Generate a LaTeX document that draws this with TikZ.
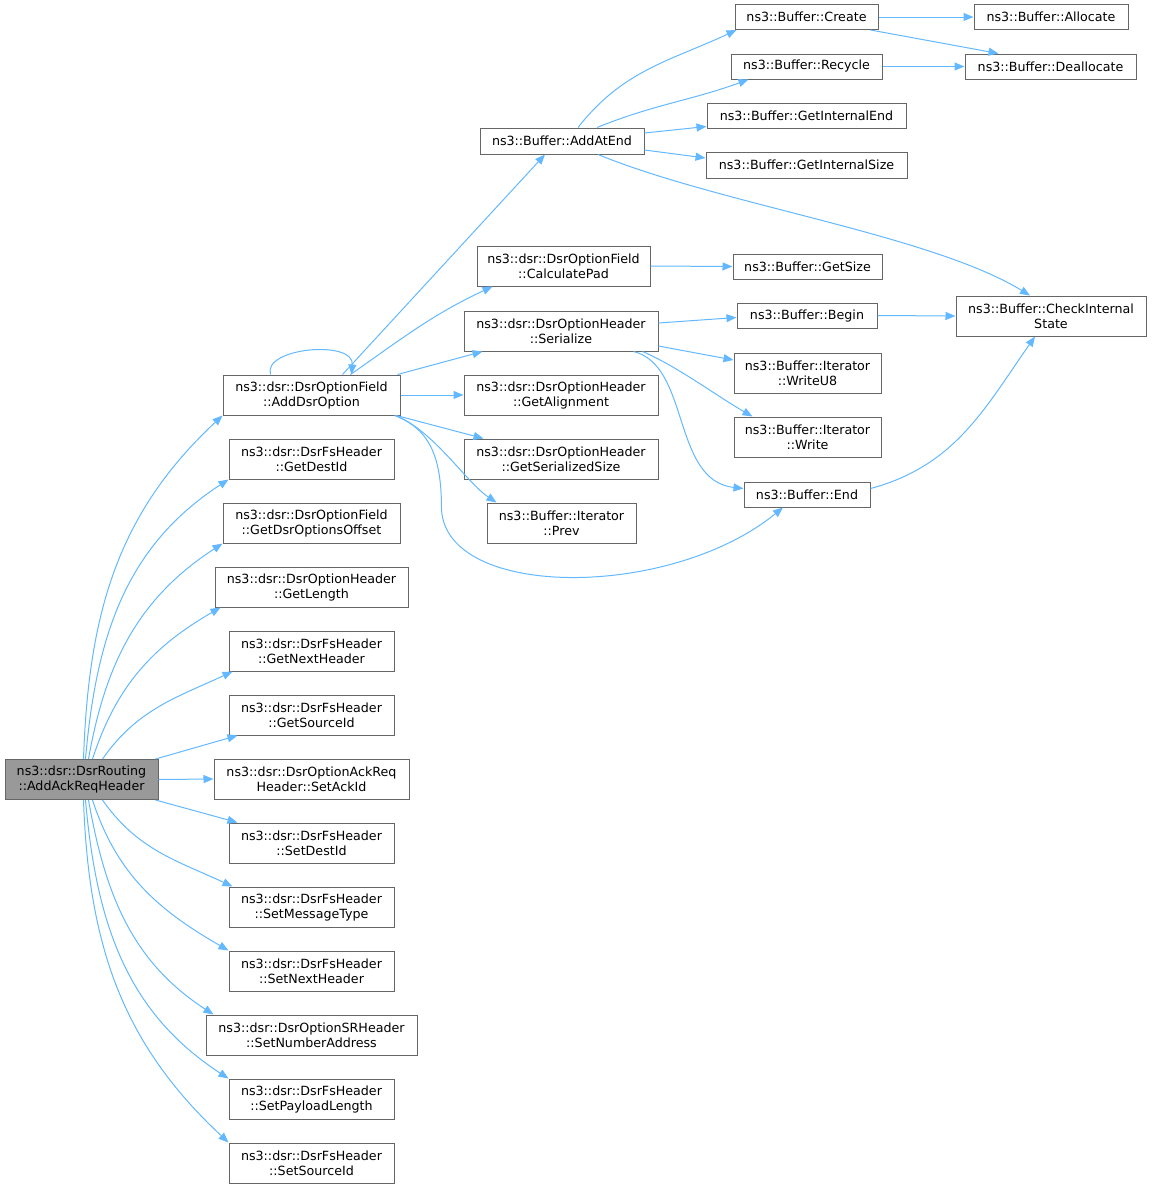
\documentclass[tikz,border=0pt]{standalone}
\usepackage{fontspec}
\setmainfont{DejaVu Sans}
\usetikzlibrary{arrows.meta,calc}
\definecolor{edgeblue}{HTML}{63B8FF}
\definecolor{boxgray}{HTML}{666666}
\definecolor{rootgray}{HTML}{999999}
\tikzset{
    fn/.style={draw=boxgray, fill=white, line width=0.75pt, inner sep=0pt, align=center,
        minimum height=30pt, font=\fontsize{9.5}{11.25}\selectfont},
    one/.style={minimum height=18.75pt},
    wd/.style={minimum width=#1*0.75pt},
    call/.style={draw=edgeblue, line width=0.75pt, -{Triangle[length=7.5pt,width=6pt]}}
}
\begin{document}
\begin{tikzpicture}[x=0.75pt,y=-0.75pt]
                \useasboundingbox (0,0) rectangle (1152,1189);
                \draw (81.5,779.5) node[fn, wd=153, fill=rootgray] (root) {ns3::dsr::DsrRouting\\::AddAckReqHeader};
                \draw (311.5,395) node[fn, wd=177] (adddsr) {ns3::dsr::DsrOptionField\\::AddDsrOption};
                \draw (311.5,459) node[fn, wd=165] (getdestid) {ns3::dsr::DsrFsHeader\\::GetDestId};
                \draw (311.5,523) node[fn, wd=177] (getoffset) {ns3::dsr::DsrOptionField\\::GetDsrOptionsOffset};
                \draw (311.5,587) node[fn, wd=193] (getlength) {ns3::dsr::DsrOptionHeader\\::GetLength};
                \draw (311.5,651) node[fn, wd=165] (getnexthdr) {ns3::dsr::DsrFsHeader\\::GetNextHeader};
                \draw (311.5,715) node[fn, wd=165] (getsrcid) {ns3::dsr::DsrFsHeader\\::GetSourceId};
                \draw (311.5,779) node[fn, wd=195] (setackid) {ns3::dsr::DsrOptionAckReq\\Header::SetAckId};
                \draw (311.5,843) node[fn, wd=165] (setdestid) {ns3::dsr::DsrFsHeader\\::SetDestId};
                \draw (311.5,907) node[fn, wd=165] (setmsgtype) {ns3::dsr::DsrFsHeader\\::SetMessageType};
                \draw (311.5,971) node[fn, wd=165] (setnexthdr) {ns3::dsr::DsrFsHeader\\::SetNextHeader};
                \draw (311.5,1035) node[fn, wd=211] (setnumaddr) {ns3::dsr::DsrOptionSRHeader\\::SetNumberAddress};
                \draw (311.5,1099) node[fn, wd=165] (setpayload) {ns3::dsr::DsrFsHeader\\::SetPayloadLength};
                \draw (311.5,1163) node[fn, wd=165] (setsrcid) {ns3::dsr::DsrFsHeader\\::SetSourceId};
                \draw (562,141) node[fn, wd=164, minimum height=19.5pt] (addatend) {ns3::Buffer::AddAtEnd};
                \draw (563.5,266) node[fn, wd=173] (calcpad) {ns3::dsr::DsrOptionField\\::CalculatePad};
                \draw (561,331) node[fn, wd=194] (serialize) {ns3::dsr::DsrOptionHeader\\::Serialize};
                \draw (561,395) node[fn, wd=194] (getalign) {ns3::dsr::DsrOptionHeader\\::GetAlignment};
                \draw (561,459) node[fn, wd=194] (getsersize) {ns3::dsr::DsrOptionHeader\\::GetSerializedSize};
                \draw (561.5,523) node[fn, wd=149] (prev) {ns3::Buffer::Iterator\\::Prev};
                \draw (806.5,17) node[fn, one, wd=143] (create) {ns3::Buffer::Create};
                \draw (806.5,66.5) node[fn, one, wd=151] (recycle) {ns3::Buffer::Recycle};
                \draw (806.5,115.5) node[fn, one, wd=199] (getintend) {ns3::Buffer::GetInternalEnd};
                \draw (806.5,165) node[fn, wd=201, minimum height=19.5pt] (getintsize) {ns3::Buffer::GetInternalSize};
                \draw (807.5,266.5) node[fn, one, wd=149] (getsize) {ns3::Buffer::GetSize};
                \draw (807,315.5) node[fn, one, wd=140] (begin) {ns3::Buffer::Begin};
                \draw (807.5,373) node[fn, wd=147] (writeu8) {ns3::Buffer::Iterator\\::WriteU8};
                \draw (807.5,437) node[fn, wd=147] (write) {ns3::Buffer::Iterator\\::Write};
                \draw (807,494.5) node[fn, one, wd=126] (end) {ns3::Buffer::End};
                \draw (1051,17) node[fn, one, wd=154] (allocate) {ns3::Buffer::Allocate};
                \draw (1050.5,66.5) node[fn, one, wd=171] (deallocate) {ns3::Buffer::Deallocate};
                \draw (1051,316) node[fn, wd=190] (checkint) {ns3::Buffer::CheckInternal\\State};

                \draw[call] ($(root.north)+(2,0)$) to[out=88,in=223] (adddsr.south west);
                \draw[call] ($(root.north)+(4,0)$) to[out=85,in=213] (getdestid.south west);
                \draw[call] ($(root.north)+(7,0)$) to[out=80,in=213] (getoffset.south west);
                \draw[call] ($(root.north)+(11,0)$) to[out=72,in=210] ($(getlength.south west)+(6,0)$);
                \draw[call] ($(root.north)+(21,0)$) to[out=55,in=205] ($(getnexthdr.south west)+(4,0)$);
                \draw[call] ($(root.north east)+(-3,0)$) -- ($(getsrcid.south west)+(9,0)$);
                \draw[call] (root.east) -- (setackid.west);
                \draw[call] ($(root.south east)+(-3,0)$) -- ($(setdestid.north west)+(9,0)$);
                \draw[call] ($(root.south)+(21,0)$) to[out=-55,in=155] ($(setmsgtype.north west)+(4,0)$);
                \draw[call] ($(root.south)+(11,0)$) to[out=-72,in=150] (setnexthdr.north west);
                \draw[call] ($(root.south)+(7,0)$) to[out=-80,in=147] ($(setnumaddr.north west)+(8,0)$);
                \draw[call] ($(root.south)+(4,0)$) to[out=-85,in=147] (setpayload.north west);
                \draw[call] ($(root.south)+(2,0)$) to[out=-88,in=137] (setsrcid.north west);

                \draw[call] ($(adddsr.north)+(-41,0)$) .. controls +(-8,-27) and +(3,-35) .. ($(adddsr.north)+(40,0)$);
                \draw[call] ($(adddsr.north)+(31,0)$) -- ($(addatend.south)+(-17,0)$);
                \draw[call] ($(adddsr.north)+(39,0)$) to[out=35,in=205] ($(calcpad.south west)+(16,0)$);
                \draw[call] ($(adddsr.north east)+(-3,0)$) -- ($(serialize.south west)+(19,0)$);
                \draw[call] (adddsr.east) -- (getalign.west);
                \draw[call] ($(adddsr.south east)+(-4,0)$) -- ($(getsersize.north west)+(20,0)$);
                \draw[call] ($(adddsr.south east)+(-5,0)$) .. controls +(38,15) and +(-30,-20) .. ($(prev.north west)+(10,0)$);
                \draw[call] ($(adddsr.south east)+(-6,0)$) .. controls +(37,14) and +(0,-50) .. ++(47,94)
                    .. controls +(5,90) and +(-113,92) .. ($(end.south)+(-24,0)$);

                \draw[call] ($(addatend.north)+(16,0)$) to[out=52,in=205] ($(create.south west)+(2,0)$);
                \draw[call] ($(addatend.north)+(35,0)$) to[out=22,in=200] ($(recycle.south west)+(18,0)$);
                \draw[call] ($(addatend.east)+(0,-8)$) -- ($(getintend.south west)+(0,-2)$);
                \draw[call] ($(addatend.east)+(0,9)$) -- ($(getintsize.west)+(0,-7)$);
                \draw[call] ($(addatend.south)+(36,0)$) .. controls +(122,50) and +(-100,-61) .. ($(checkint.north)+(-21,0)$);
                \draw[call] (create.east) -- (allocate.west);
                \draw[call] ($(create.south east)+(-8,0)$) -- ($(deallocate.north west)+(34,0)$);
                \draw[call] (recycle.east) -- (deallocate.west);
                \draw[call] (calcpad.east) -- (getsize.west);
                \draw[call] ($(serialize.east)+(0,-8)$) -- ($(begin.west)+(0,2)$);
                \draw[call] ($(serialize.east)+(0,15)$) -- ($(writeu8.west)+(0,-13)$);
                \draw[call] ($(serialize.south east)+(-16,0)$) .. controls +(35,15) and +(-35,-20) .. ($(write.north west)+(19,0)$);
                \draw[call] ($(serialize.south east)+(-25,0)$) .. controls +(57,14) and +(-72,-8) .. ($(end.west)+(0,-6)$);
                \draw[call] (begin.east) -- (checkint.west);
                \draw[call] ($(end.east)+(0,-6)$) to[out=15,in=235] ($(checkint.south)+(-16,0)$);
\end{tikzpicture}
\end{document}
